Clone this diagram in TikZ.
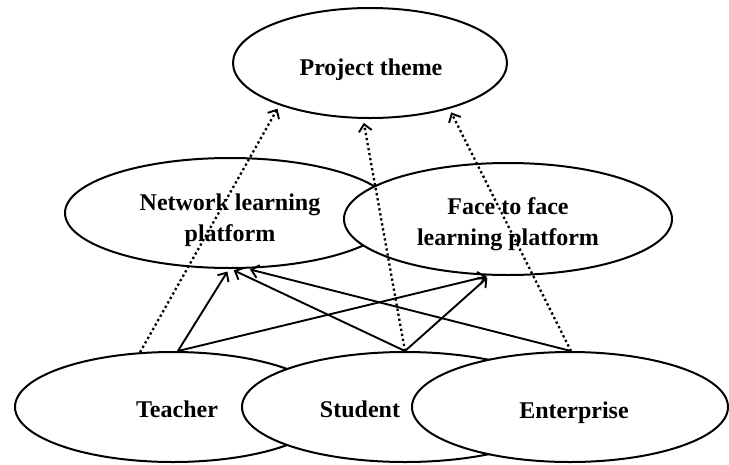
\documentclass[tikz,border=0pt]{standalone}
\usepackage{fontspec}
\setmainfont{Liberation Serif}
\usetikzlibrary{arrows.meta,shapes.geometric}
\begin{document}
\begin{tikzpicture}[x=1pt,y=-1pt,
  oval/.style={draw, ellipse, fill=white, line width=2pt, inner sep=0pt},
  lbl/.style={font=\bfseries\fontsize{24}{31}\selectfont, align=center, inner sep=0pt},
  link/.style={line width=1.9pt, -{Straight Barb[length=7pt,width=13pt]}, shorten >=3pt},
  dotlink/.style={line width=2.3pt, dash pattern=on 2.3pt off 2.8pt,
     -{Straight Barb[length=7pt,width=13pt,line width=1.9pt]}, shorten >=4pt}]
\useasboundingbox (0,0) rectangle (729,464);
% ellipses
\node[oval, minimum width=274pt, minimum height=110pt] (project) at (370,63) {};
\node[oval, minimum width=330pt, minimum height=110pt] (network) at (230,213) {};
\node[oval, minimum width=328pt, minimum height=112pt] (face) at (508,219) {};
\node[oval, minimum width=316pt, minimum height=110pt] (teacher) at (173,407) {};
\node[oval, minimum width=326pt, minimum height=110pt] (student) at (405,407) {};
\node[oval, minimum width=316pt, minimum height=110pt] (enterprise) at (570,407) {};
% texts
\node[lbl, anchor=base] (tproject) at (371,75) {Project theme};
\node[lbl] (tnetwork) at (230,220) {Network learning\\platform};
\node[lbl] (tface) at (508,224) {Face to face\\learning platform};
\node[lbl, anchor=base] (tteacher) at (177,417) {Teacher};
\node[lbl, anchor=base] (tstudent) at (360,417) {Student};
\node[lbl, anchor=base] (tenterprise) at (574,418) {Enterprise};
% solid arrows
\draw[link] (teacher.85) -- (network.-91);
\draw[link] (teacher.85) -- (face.-108);
\draw[link] (student.90) -- (network.-89);
\draw[link] (student.90) -- (face.-108);
\draw[link] (enterprise.89) -- (network.-73);
% dotted arrows
\draw[dotlink] (teacher.121.5) -- (project.-155);
\draw[dotlink] (student.90) -- (project.-97);
\draw[dotlink] (enterprise.89) -- (project.-30);
\end{tikzpicture}
\end{document}
